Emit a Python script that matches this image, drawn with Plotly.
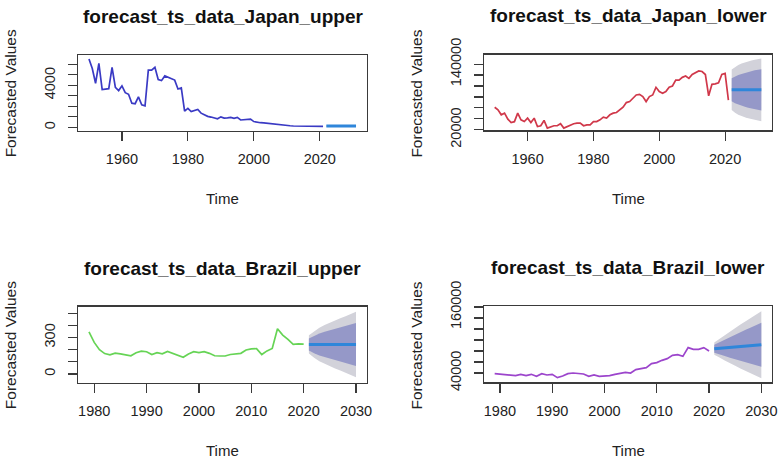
import plotly.graph_objects as go

W, H = 780, 460

# ---------------- data ----------------
japan_years = list(range(1950, 2022))
japan_fc_years = list(range(2022, 2032))
brazil_years = list(range(1979, 2021))
brazil_fc_years = list(range(2021, 2031))

japan_upper = [6500, 5600, 4200, 6100, 3600, 3620, 3680, 5700, 3800, 3500,
               3950, 3300, 3150, 2300, 2250, 2900, 2150, 2050, 5450, 5450,
               5720, 4550, 4450, 4900, 4750, 4650, 4500, 3650, 3750, 1550,
               1800, 1500, 1600, 1700, 1350, 1200, 1050, 980, 880, 820,
               1000, 880, 900, 950, 850, 950, 700, 720, 700, 780,
               550, 480, 440, 420, 380, 330, 280, 240, 200, 180,
               160, 150, 130, 130, 120, 70, 120, 130, 120, 110,
               100, 95]
japan_upper_mean = [120, 120, 120, 120, 120, 120, 120, 120, 120, 120]
japan_upper_lo80 = [95, 92, 90, 88, 87, 86, 85, 84, 83, 82]
japan_upper_hi80 = [145, 148, 150, 152, 153, 154, 155, 156, 157, 158]
japan_upper_lo95 = [82, 77, 74, 71, 69, 67, 66, 64, 63, 62]
japan_upper_hi95 = [158, 163, 166, 169, 171, 173, 174, 176, 177, 178]

japan_lower = [61200, 56400, 47300, 50300, 39400, 33300, 34800, 50300, 38200, 35000,
               41200, 33300, 41200, 26000, 27300, 37000, 23000, 24800, 27300, 27300,
               31000, 23000, 26000, 28500, 31000, 32100, 32100, 27300, 29000, 29000,
               35000, 35000, 38200, 43000, 41200, 47300, 50300, 51500, 56400, 61200,
               69700, 71500, 77600, 83600, 84800, 80600, 71500, 80600, 83600, 97600,
               89700, 86700, 89700, 97600, 100000, 110900, 110900, 115800, 118200, 113900,
               121000, 125000, 127500, 126500, 121000, 82000, 103000, 104000, 106000, 121000,
               123000, 74000]
japan_lower_mean = [93000, 93000, 93000, 93000, 93000, 93000, 93000, 93000, 93000, 93000]
japan_lower_hi80 = [114000, 117500, 120000, 122000, 124000, 125800, 127300, 128700, 129800, 130800]
japan_lower_lo80 = [72000, 68500, 66000, 64000, 62000, 60200, 58700, 57300, 56200, 55200]
japan_lower_hi95 = [130000, 135000, 138500, 141000, 143200, 145000, 146600, 148000, 149200, 150300]
japan_lower_lo95 = [56000, 51000, 47500, 45000, 42800, 41000, 39400, 38000, 36800, 35700]

brazil_upper = [346, 260, 200, 168, 158, 172, 166, 158, 150, 175,
                188, 183, 160, 175, 166, 186, 170, 156, 138, 165,
                183, 176, 183, 170, 150, 148, 148, 160, 162, 170,
                197, 207, 208, 160, 190, 210, 372, 320, 285, 243,
                248, 245]
brazil_upper_mean = [243, 243, 243, 243, 243, 243, 243, 243, 243, 243]
brazil_upper_hi80 = [292, 315, 333, 348, 361, 372, 384, 395, 407, 420]
brazil_upper_lo80 = [194, 171, 153, 138, 125, 114, 102, 91, 79, 66]
brazil_upper_hi95 = [318, 353, 381, 403, 423, 441, 458, 475, 493, 513]
brazil_upper_lo95 = [168, 133, 105, 83, 63, 45, 28, 11, -7, -27]

brazil_lower = [38800, 37600, 37000, 35800, 35200, 37600, 35200, 37600, 34000, 38800,
                36400, 37600, 31500, 34500, 38800, 40000, 38800, 38200, 34000, 36400,
                34000, 34000, 35200, 37600, 38800, 41200, 40000, 46100, 47900, 49700,
                57000, 58800, 63000, 66100, 72100, 73300, 70300, 86100, 83000, 83000,
                86100, 80000]
brazil_lower_mean = [84200, 85000, 85800, 86600, 87400, 88200, 89000, 89800, 90600, 91400]
brazil_lower_hi80 = [91400, 96100, 100800, 105600, 109600, 114400, 118400, 122500, 127200, 131300]
brazil_lower_lo80 = [77000, 73900, 70800, 67600, 65200, 62000, 59600, 57100, 54000, 51500]
brazil_lower_hi95 = [95200, 102000, 108800, 115600, 121400, 128200, 134000, 139800, 146600, 152400]
brazil_lower_lo95 = [73200, 68000, 62800, 57600, 53400, 48200, 44000, 39800, 34600, 30400]

titles = ["forecast_ts_data_Japan_upper", "forecast_ts_data_Japan_lower",
          "forecast_ts_data_Brazil_upper", "forecast_ts_data_Brazil_lower"]
x_label = "Time"
y_label = "Forecasted Values"

# ---------------- styling / layout ----------------
FONT = "Liberation Sans, Arial, Helvetica, sans-serif"
AXC = "#3a3a3a"
col_hist = ["#3a3ac4", "#d0384a", "#66d455", "#9c45cc"]
col_mean = "#2f86da"
col_80 = "#9598c8"
col_95 = "#d2d2da"

# panel boxes in pixels: (left, right, top, bottom)
boxes = [(78.3, 366.7, 55.0, 130.7),
         (484.0, 772.0, 54.5, 130.3),
         (78.3, 366.7, 306.7, 382.7),
         (484.0, 772.0, 306.3, 382.3)]

def px(x):
    return x / W

def py(y):
    return 1 - y / H

xranges = [[1946.76, 2034.24], [1946.76, 2034.24], [1976.96, 2032.04], [1976.96, 2032.04]]
yranges = [[-320, 6890], [19000, 157600], [-72, 554], [23100, 161200]]
xtick_vals = [[1960, 1980, 2000, 2020], [1960, 1980, 2000, 2020],
              [1980, 1990, 2000, 2010, 2020, 2030], [1980, 1990, 2000, 2010, 2020, 2030]]
ytick_vals = [[0, 1000, 2000, 3000, 4000, 5000, 6000],
              [20000, 40000, 60000, 80000, 100000, 120000, 140000],
              [0, 100, 200, 300, 400, 500],
              [40000, 60000, 80000, 100000, 120000, 140000, 160000]]
ytick_text = [["0", "", "", "", "4000", "", ""],
              ["20000", "", "", "", "", "", "140000"],
              ["0", "", "", "300", "", ""],
              ["40000", "", "", "", "", "", "160000"]]

panels = [
    (japan_years, japan_upper, japan_fc_years, japan_upper_mean,
     japan_upper_lo80, japan_upper_hi80, japan_upper_lo95, japan_upper_hi95),
    (japan_years, japan_lower, japan_fc_years, japan_lower_mean,
     japan_lower_lo80, japan_lower_hi80, japan_lower_lo95, japan_lower_hi95),
    (brazil_years, brazil_upper, brazil_fc_years, brazil_upper_mean,
     brazil_upper_lo80, brazil_upper_hi80, brazil_upper_lo95, brazil_upper_hi95),
    (brazil_years, brazil_lower, brazil_fc_years, brazil_lower_mean,
     brazil_lower_lo80, brazil_lower_hi80, brazil_lower_lo95, brazil_lower_hi95),
]

fig = go.Figure()
layout = dict(width=W, height=H,
              margin=dict(l=0, r=0, t=0, b=0, pad=0, autoexpand=False),
              paper_bgcolor="white", plot_bgcolor="white", showlegend=False,
              font=dict(family=FONT, color="#222"))
annotations = []

for i, (yrs, hist, fyrs, mean, lo80, hi80, lo95, hi95) in enumerate(panels):
    n = i + 1
    xa = "x" if n == 1 else f"x{n}"
    ya = "y" if n == 1 else f"y{n}"
    fig.add_trace(go.Scatter(x=fyrs + fyrs[::-1], y=hi95 + lo95[::-1], fill="toself",
                             fillcolor=col_95, line=dict(width=0), mode="lines",
                             xaxis=xa, yaxis=ya, hoverinfo="skip"))
    fig.add_trace(go.Scatter(x=fyrs + fyrs[::-1], y=hi80 + lo80[::-1], fill="toself",
                             fillcolor=col_80, line=dict(width=0), mode="lines",
                             xaxis=xa, yaxis=ya, hoverinfo="skip"))
    fig.add_trace(go.Scatter(x=yrs, y=hist, mode="lines",
                             line=dict(color=col_hist[i], width=1.7),
                             xaxis=xa, yaxis=ya))
    fig.add_trace(go.Scatter(x=fyrs, y=mean, mode="lines",
                             line=dict(color=col_mean, width=3),
                             xaxis=xa, yaxis=ya))

    l, r, t, b = boxes[i]
    common = dict(showline=True, mirror=True, linecolor=AXC, linewidth=1.3,
                  ticks="outside", ticklen=9, tickwidth=1.2, tickcolor=AXC,
                  showgrid=False, zeroline=False, automargin=False,
                  tickfont=dict(family=FONT, size=14.5, color="#222"))
    layout["xaxis" if n == 1 else f"xaxis{n}"] = dict(
        domain=[px(l), px(r)], range=xranges[i], anchor=ya,
        tickvals=xtick_vals[i], ticktext=[str(v) for v in xtick_vals[i]],
        ticklabelstandoff=6, **common)
    layout["yaxis" if n == 1 else f"yaxis{n}"] = dict(
        domain=[py(b), py(t)], range=yranges[i], anchor=xa,
        tickvals=ytick_vals[i], ticktext=ytick_text[i], tickangle=-90,
        ticklabelstandoff=7, **common)

    cx = (l + r) / 2
    annotations.append(dict(text=f"<b>{titles[i]}</b>", x=px(cx), y=py(t - 38.6),
                            xref="paper", yref="paper", showarrow=False,
                            xanchor="center", yanchor="middle",
                            font=dict(family=FONT, size=19, color="#111")))
    annotations.append(dict(text=x_label, x=px(cx), y=py(b + 68.0),
                            xref="paper", yref="paper", showarrow=False,
                            xanchor="center", yanchor="middle",
                            font=dict(family=FONT, size=15, color="#222")))
    annotations.append(dict(text=y_label, x=px(l - 67.8), y=py((t + b) / 2 + 1),
                            xref="paper", yref="paper", showarrow=False, textangle=-90,
                            xanchor="center", yanchor="middle",
                            font=dict(family=FONT, size=15.5, color="#222")))

layout["annotations"] = annotations
fig.update_layout(**layout)
# remove the browser's default 8px page margin so the 780x460 figure fills the window
fig.write_html("out.html",
               config={"displayModeBar": False, "staticPlot": True},
               post_script="document.body.style.margin='0';document.body.style.overflow='hidden';")
